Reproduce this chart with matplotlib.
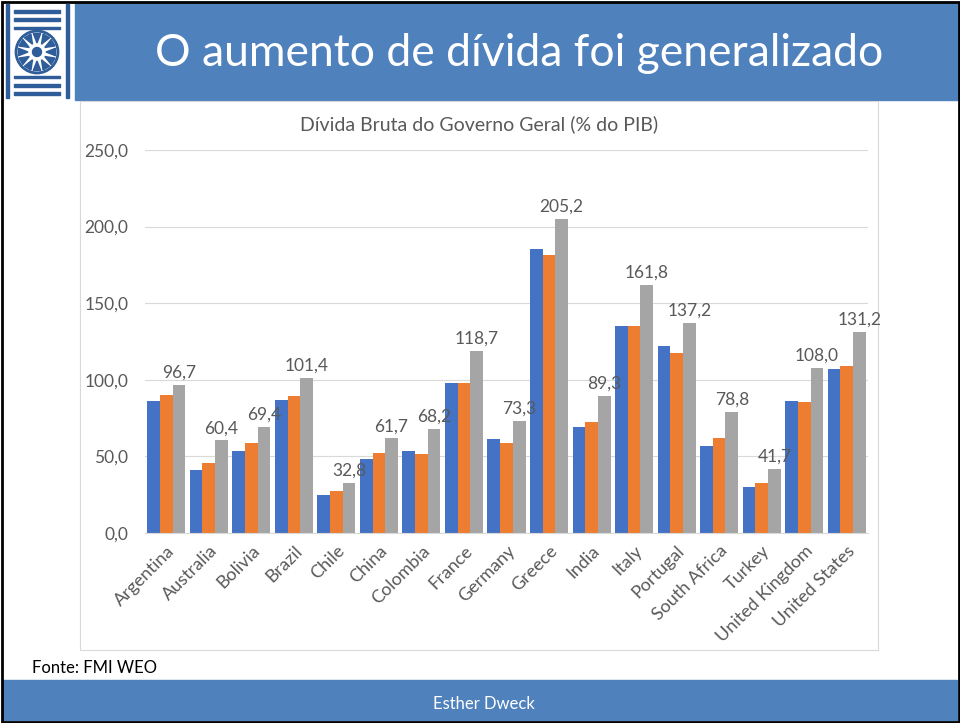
import numpy as np
import matplotlib
matplotlib.use('Agg')
import matplotlib.pyplot as plt
from matplotlib.patches import Rectangle, Circle, Polygon

plt.rcParams['font.family'] = ['Lato', 'DejaVu Sans']

# dados (% do PIB)
paises = ['Argentina', 'Australia', 'Bolivia', 'Brazil', 'Chile', 'China', 'Colombia',
          'France', 'Germany', 'Greece', 'India', 'Italy', 'Portugal', 'South Africa',
          'Turkey', 'United Kingdom', 'United States']
serie_azul = [86.2, 41.3, 53.3, 86.7, 25.1, 48.5, 53.3, 97.8, 61.4, 185.4, 69.4,
              134.9, 122.1, 56.6, 29.9, 86.0, 107.0]
serie_laranja = [90.2, 45.6, 58.7, 89.1, 27.3, 52.2, 51.7, 98.1, 59.0, 181.4, 72.3,
                 134.9, 117.7, 62.0, 32.8, 85.4, 108.7]
serie_cinza = [96.7, 60.4, 69.4, 101.4, 32.8, 61.7, 68.2, 118.7, 73.3, 205.2, 89.3,
               161.8, 137.2, 78.8, 41.7, 108.0, 131.2]
yticks = [0, 50, 100, 150, 200, 250]

W, H = 960, 723
fig = plt.figure(figsize=(W / 100, H / 100), dpi=100)

# camada de fundo em pixels
bg = fig.add_axes([0, 0, 1, 1])
bg.set_xlim(0, W)
bg.set_ylim(H, 0)
bg.axis('off')

azul_slide = '#4F81BD'
bg.add_patch(Rectangle((75, 2), W - 75, 98, color=azul_slide))
bg.add_patch(Rectangle((3, 680), W - 6, 40, color=azul_slide))
bg.add_patch(Rectangle((80, 101), 798, 549, fill=False, ec='#D9D9D9', lw=0.8))
bg.add_patch(Rectangle((1.5, 1.5), W - 3, H - 3, fill=False, ec='black', lw=2))

# logo (azulejo)
logo = '#2E5D9A'
for yy in (10, 18, 84, 92):
    bg.add_patch(Rectangle((14, yy), 46, 3, color=logo))
for xx in (6, 66):
    bg.add_patch(Rectangle((xx, 4), 3, 94, color=logo))
bg.add_patch(Rectangle((14, 27), 46, 2, color=logo))
bg.add_patch(Rectangle((14, 76), 46, 2, color=logo))
bg.add_patch(Circle((37, 52), 21, fill=False, ec=logo, lw=2))
for k in range(12):
    a = 2 * np.pi * k / 12
    p1 = (37 + 19 * np.cos(a - 0.2), 52 + 19 * np.sin(a - 0.2))
    p2 = (37 + 19 * np.cos(a + 0.2), 52 + 19 * np.sin(a + 0.2))
    p3 = (37 + 9 * np.cos(a), 52 + 9 * np.sin(a))
    bg.add_patch(Polygon([p1, p2, p3], color=logo))
bg.add_patch(Circle((37, 52), 4.5, color=logo))

bg.text(519, 53, 'O aumento de dívida foi generalizado', color='white',
        fontsize=32, ha='center', va='center')
bg.text(479, 124, 'Dívida Bruta do Governo Geral (% do PIB)', color='#595959',
        fontsize=14, ha='center', va='center')
bg.text(32, 668, 'Fonte: FMI WEO', color='black', fontsize=12, ha='left', va='center')
bg.text(484, 704, 'Esther Dweck', color='white', fontsize=12, ha='center', va='center')

# grafico
ax = fig.add_axes([145 / W, (H - 533) / H, (868 - 145) / W, (533 - 150) / H])
x = np.arange(len(paises))
w = 0.298
ax.bar(x - w, serie_azul, w, color='#4472C4', zorder=2)
ax.bar(x, serie_laranja, w, color='#ED7D31', zorder=2)
ax.bar(x + w, serie_cinza, w, color='#A5A5A5', zorder=2)
for xi, v in zip(x, serie_cinza):
    ax.annotate(f'{v:.1f}'.replace('.', ','), (xi + w, v), xytext=(0, 3),
                textcoords='offset points', ha='center', va='bottom',
                color='#595959', fontsize=12.5, zorder=3)

ax.set_xlim(-0.5, len(paises) - 0.5)
ax.set_ylim(0, 250)
ax.set_yticks(yticks)
ax.set_yticklabels([f'{t:.1f}'.replace('.', ',') for t in yticks], color='#595959', fontsize=12.5)
ax.set_xticks(x)
ax.set_xticklabels(paises, rotation=45, ha='right', rotation_mode='anchor',
                   color='#595959', fontsize=13)
ax.tick_params(length=0)
ax.tick_params(axis='y', pad=12)
ax.tick_params(axis='x', pad=7)
ax.grid(axis='y', color='#D9D9D9', lw=0.8, zorder=0)
for s in ['top', 'right', 'left']:
    ax.spines[s].set_visible(False)
ax.spines['bottom'].set_color('#D9D9D9')
ax.patch.set_alpha(0)

fig.savefig('out.png', dpi=100)
